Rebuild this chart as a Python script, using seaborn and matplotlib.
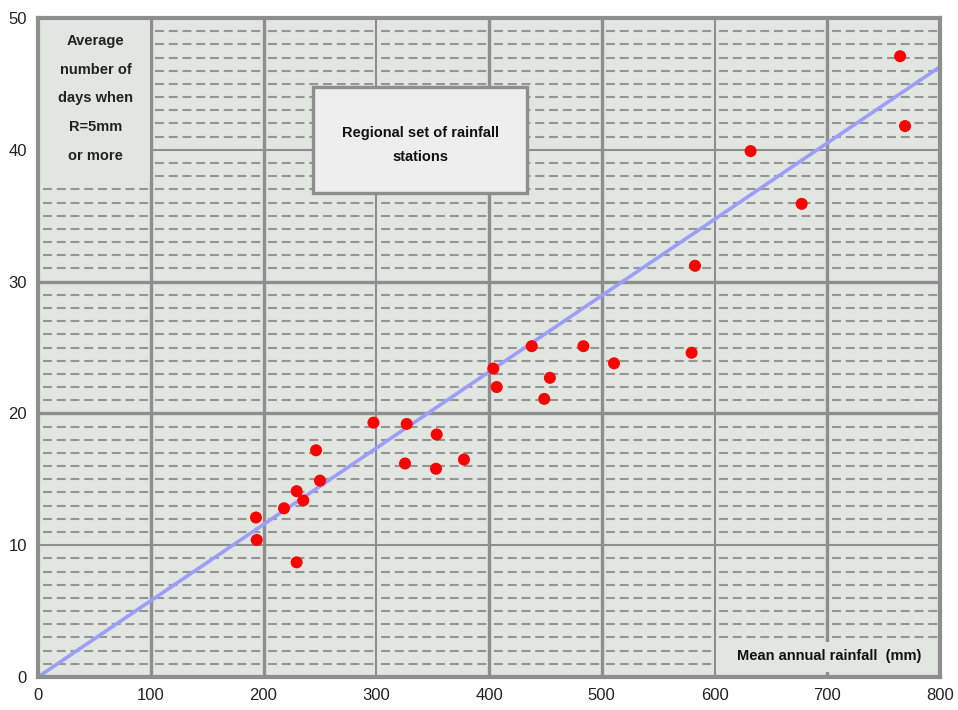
import matplotlib.pyplot as plt
import seaborn as sb
import pandas as pd
import numpy as np

# mean annual rainfall (mm) of each station
rainfall = [764.6, 769.0, 632.0, 677.3, 582.7, 579.7, 510.9, 483.7, 454.0, 437.9,
            449.0, 403.8, 406.8, 377.8, 353.6, 353.0, 327.0, 325.5, 297.5, 246.6,
            250.1, 229.4, 235.3, 218.2, 193.3, 194.0, 229.4]
# average number of days when R = 5mm or more
days = [47.1, 41.8, 39.9, 35.9, 31.2, 24.6, 23.8, 25.1, 22.7, 25.1,
        21.1, 23.4, 22.0, 16.5, 18.4, 15.8, 19.2, 16.2, 19.3, 17.2,
        14.9, 14.1, 13.4, 12.8, 12.1, 10.4, 8.7]

# fitted line
fit_x = [0, 800]
fit_y = [0, 46.3]

x_ticks = [0, 100, 200, 300, 400, 500, 600, 700, 800]
y_ticks = [0, 10, 20, 30, 40, 50]

stations = pd.DataFrame({"rainfall": rainfall, "days": days})
fit = pd.DataFrame({"x": fit_x, "y": fit_y})

plt.rcParams['font.family'] = ['Liberation Sans', 'DejaVu Sans']

grid_color = '#8e8e8e'
back_color = '#e1e6e1'

figure = plt.figure(figsize=(9.58, 7.10), dpi=100)
axis = figure.add_axes([38 / 958, 33 / 710, 902 / 958, 659 / 710])
axis.set_facecolor(back_color)
axis.set_xlim(0, 800)
axis.set_ylim(0, 50)

# dashed minor lines, one set per 100 mm cell
for x0 in x_ticks[:-1]:
    for yv in range(1, 50):
        if yv % 10 == 0:
            continue
        axis.hlines(yv, x0 + 4, x0 + 99, colors='#959595', linewidth=1.5,
                    linestyles=(0, (4.3, 2.3)), zorder=1)

# major grid lines
thick_x = {100: 2.4, 200: 2.4, 300: 1.5, 400: 2.4, 500: 2.4, 600: 1.5, 700: 2.4}
for xv, lw in thick_x.items():
    axis.axvline(xv, color=grid_color, linewidth=lw, zorder=2)
thick_y = {10: 1.5, 20: 2.4, 30: 2.4, 40: 1.5}
for yv, lw in thick_y.items():
    axis.axhline(yv, color=grid_color, linewidth=lw, zorder=2)

# blank patch under the y axis title
axis.add_patch(plt.Rectangle((1.5, 37.6), 97.5, 12.3, facecolor=back_color,
                             edgecolor='none', zorder=3))
axis.text(51, 43.9, "Average\nnumber of\ndays when\nR=5mm\nor more", ha='center', va='center',
          fontsize=10.5, fontweight='bold', color='#222222', linespacing=2.35, zorder=4)

# legend style box
axis.add_patch(plt.Rectangle((244, 36.7), 190, 8.1, facecolor='#eeeeee',
                             edgecolor=grid_color, linewidth=2.4, zorder=3))
axis.text(339, 40.35, "Regional set of rainfall\nstations", ha='center', va='center',
          fontsize=10.5, fontweight='bold', color='#111111', linespacing=1.95, zorder=4)

# x axis title patch
axis.add_patch(plt.Rectangle((601, 0.4), 197, 2.25, facecolor=back_color,
                             edgecolor='none', zorder=3))
axis.text(702, 1.6, "Mean annual rainfall  (mm)", ha='center', va='center',
          fontsize=10.5, fontweight='bold', color='#111111', zorder=4)

sb.lineplot(data=fit, x="x", y="y", color='#9d9dfa', linewidth=2.6, ax=axis, zorder=5)
sb.scatterplot(data=stations, x="rainfall", y="days", color='#ff0000', s=75,
               edgecolor='none', ax=axis, zorder=6)

axis.set_xticks(x_ticks)
axis.set_yticks(y_ticks)
axis.tick_params(length=0, labelsize=12, colors='#222222')
axis.tick_params(axis='x', pad=8)
axis.tick_params(axis='y', pad=8)
axis.set_xlabel("")
axis.set_ylabel("")
for spine in axis.spines.values():
    spine.set_color(grid_color)
    spine.set_linewidth(3)
    spine.set_zorder(7)

plt.savefig("out.png", dpi=100)
